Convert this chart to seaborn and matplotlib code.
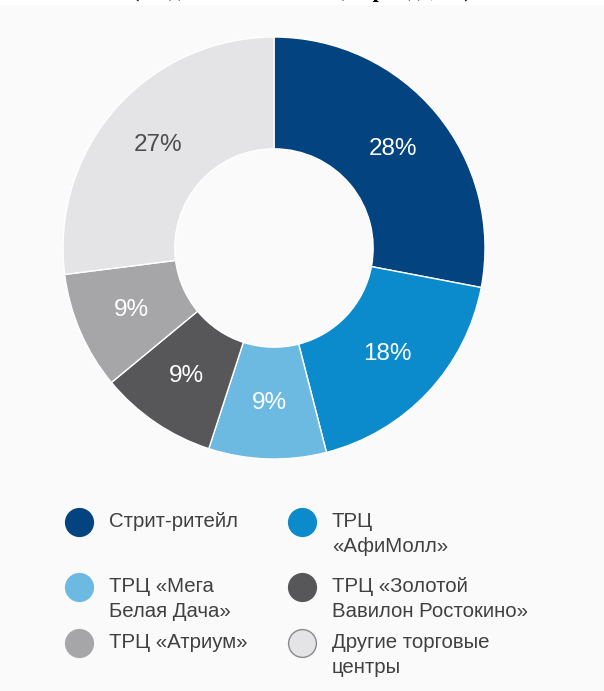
"""Donut chart: structure by shopping location, with a two-column legend below."""

import matplotlib

matplotlib.use("Agg")
import matplotlib.pyplot as plt
import numpy as np
import seaborn as sns

# data
categories = [
    "Стрит-ритейл",
    "ТРЦ\n«АфиМолл»",
    "ТРЦ «Мега\nБелая Дача»",
    "ТРЦ «Золотой\nВавилон Ростокино»",
    "ТРЦ «Атриум»",
    "Другие торговые\nцентры",
]
shares = [28, 18, 9, 9, 9, 27]
colors = ["#03437f", "#0b8bcb", "#6cb9e2", "#575759", "#a6a6a9", "#e4e4e6"]
label_colors = ["white", "white", "white", "white", "white", "#4d4d4d"]

# legend layout (pixels from top-left), order follows categories
legend_cols_x = [79, 302]
legend_rows_y = [522, 587, 643]

W, H = 604, 691
sns.set_theme(style="white")
plt.rcParams["font.family"] = ["Liberation Sans", "DejaVu Sans"]

fig = plt.figure(figsize=(W / 100, H / 100), dpi=100)
fig.patch.set_facecolor("#fafafa")

# background / clipped heading
bg = fig.add_axes([0, 0, 1, 1])
bg.set_xlim(0, W)
bg.set_ylim(H, 0)
bg.axis("off")
bg.axhspan(-5, 4, color="white", zorder=0)
bg.text(302, -3, "(по данным на конец периода, %)", ha="center", va="baseline",
        fontsize=16, fontweight="bold", family="Liberation Serif", color="black")

# donut
cx, cy, r = 274, 248, 211
ax = fig.add_axes([(cx - r) / W, (H - cy - r) / H, 2 * r / W, 2 * r / H])
wedges, _ = ax.pie(
    shares,
    colors=colors,
    startangle=90,
    counterclock=False,
    radius=1.0,
    wedgeprops=dict(width=0.53, edgecolor="white", linewidth=1.0),
)
ax.set_xlim(-1, 1)
ax.set_ylim(-1, 1)
ax.set_aspect("equal")
ax.axis("off")
for w in wedges:
    w.set_clip_on(False)

start = 90.0
for val, tc in zip(shares, label_colors):
    mid = np.deg2rad(start - val * 3.6 / 2)
    start -= val * 3.6
    ax.text(0.735 * np.cos(mid), 0.735 * np.sin(mid), f"{val}%", ha="center", va="center",
            fontsize=17.5, color=tc)

# legend
for i, label in enumerate(categories):
    col, row = i % 2, i // 2
    x, y = legend_cols_x[col], legend_rows_y[row]
    ec = "#8a8a8c" if colors[i] == "#e4e4e6" else colors[i]
    bg.scatter([x], [y], s=400, color=colors[i], edgecolor=ec, linewidth=1.0, zorder=3)
    bg.text(x + 30, y - 10, label, ha="left", va="top", fontsize=14.7,
            color="#404040", linespacing=1.38)

fig.savefig("out.png", dpi=100, facecolor=fig.get_facecolor())
